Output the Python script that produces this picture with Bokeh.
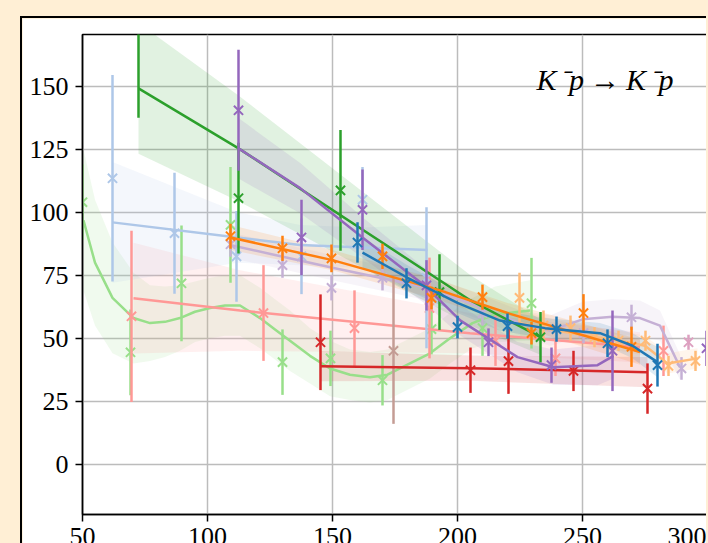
from bokeh.plotting import figure
from bokeh.models import Range1d, FixedTicker, Label
from bokeh.layouts import column
from bokeh.embed import file_html
from bokeh.resources import INLINE

x_ticks = [50, 100, 150, 200, 250, 300]
y_ticks = [0, 25, 50, 75, 100, 125, 150]
annotation = "K\u200a\u207bp\u2009\u2192\u2009K\u200a\u207bp"

# dark green
g_x = [72.4, 112.4, 153.2, 192.8, 233.2]
g_y = [176, 105.6, 108.7, 68.3, 50.4]
g_err = [38.5, 22, 24, 15, 10]
g_fit_x = [72.4, 112.4, 205.2, 233.2]
g_fit_y = [149.2, 125.4, 65, 50.4]
g_band = [26, 21, 10, 7]

# purple
pu_x = [112.4, 137.6, 162.0, 187.6, 212.4, 237.6, 262.0, 299.6]
pu_y = [140.5, 90, 101, 71, 48.4, 39.3, 45, 46]
pu_err = [24, 15, 16, 10, 5.5, 7, 16, 7]
pu_fit_x = [112.4, 137.2, 162, 187.2, 201.2, 224, 238.4, 256, 262.4]
pu_fit_y = [125.4, 109.5, 90, 70.6, 57, 42.5, 38.5, 39.3, 43]
pu_band = [12, 10, 8, 7, 6, 6, 7, 8, 9]

# blue
b_x = [160, 179.6, 200, 220, 239.6, 260, 280]
b_y = [88, 71.8, 54.4, 54.8, 53.6, 48, 39.3]
b_err = [8, 6, 4.5, 5, 5, 5.5, 8.5]
b_fit_x = [162, 180, 200, 217, 235, 257, 270, 280]
b_fit_y = [84, 74, 64, 57, 54, 52, 47, 40.5]
b_band = [6, 5, 4, 4, 4, 4, 5, 6]

# orange
o_x = [109.2, 130, 149.6, 170, 189.6, 210, 229.6, 250.4, 269.6]
o_y = [90.5, 85.7, 81.7, 82.5, 66, 66.3, 52, 60, 46.6]
o_err = [5, 5, 5.5, 5, 4.5, 5, 4.5, 7.5, 8]
o_fit_x = [109.2, 150, 193, 220, 273]
o_fit_y = [90, 81, 69, 60, 44.5]
o_band = [5, 4, 4, 4, 5]

# light blue
lb_x = [62, 86.8, 111.6, 137.6, 162, 187.6]
lb_y = [113.5, 91.7, 82.5, 82.5, 105, 74]
lb_err = [41, 24, 18, 15, 13, 28]
lb_fit_x = [62, 112, 137, 162, 188]
lb_fit_y = [96, 90, 87, 86, 85]
lb_band = [24, 10, 8, 8, 10]

# light green
lg_x = [50, 69.2, 89.6, 109.2, 130, 149.2, 170, 189.6, 210, 229.6]
lg_y = [104, 44.4, 71.8, 95, 40.5, 42, 33.3, 53.6, 54, 63.9]
lg_err = [15, 17, 23, 23, 13, 11, 10, 10, 11, 18]
lg_fit_x = [50.4, 55, 62, 70.4, 77, 83, 89, 95, 101, 107, 113, 121, 127, 133, 141,
            149, 157, 165, 172, 178, 184, 189, 197, 206, 215, 229]
lg_fit_y = [96.8, 80, 66, 58, 56, 56.5, 58, 60.5, 62, 63, 63, 58, 53.5, 49, 43,
            38, 35.5, 34.5, 35.5, 38.5, 41.5, 44, 50, 56, 59.5, 61]
lg_band = [28, 25, 22, 18, 15, 14, 13, 12, 12, 12, 12, 12, 12, 12, 11,
           11, 10, 10, 10, 10, 10, 10, 10, 10, 11, 12]

# light red
lr_x = [69.6, 122.4, 158.8, 188.8, 215.2, 239.2, 282.4]
lr_y = [58.7, 60, 54, 62, 49, 42, 45]
lr_err = [34, 19, 15, 20, 10, 7, 10]
lr_fit_x = [70.4, 113, 205, 273]
lr_fit_y = [65.9, 61, 52, 46.4]
lr_band = [22, 16, 8, 6]

# red
r_x = [145.2, 205.2, 220.4, 246.4, 276]
r_y = [48.4, 37.3, 40.9, 37, 30]
r_err = [19, 9, 13, 8, 10]
r_fit_x = [145.2, 205.2, 276]
r_fit_y = [38.9, 38.1, 36.5]
r_band = [6, 5, 6]

# light purple
lp_x = [109.2, 130, 149.6, 170, 210, 250.4, 269.6, 289.6]
lp_y = [87.3, 79, 70, 74, 60, 52, 58.3, 38]
lp_err = [5, 5, 5, 5, 5, 4, 5, 4.5]
lp_fit_x = [109, 150, 188, 210, 225, 237, 250, 262, 273, 281, 289]
lp_fit_y = [87, 78, 70, 62, 56, 53, 57.5, 58.5, 58, 55, 38.5]
lp_band = [5, 5, 5, 5, 5, 6, 7, 7, 7, 6, 5]

# light orange
lo_x = [224.8, 234.4, 245.2, 254.8, 264.4, 275.2, 284.4, 295.2]
lo_y = [66, 55, 54, 50.4, 49, 49, 39, 41]
lo_err = [10, 6, 5, 4, 4, 4, 4, 4]
lo_fit_x = [225, 240, 255, 265, 275, 284, 296]
lo_fit_y = [56, 53, 50.5, 49, 47, 40, 42]
lo_band = [5, 4, 4, 4, 4, 4, 4]

# light brown
br_x = [174.4]
br_y = [45]
br_err = [29]

# pink
pk_x = [292.4]
pk_y = [48.4]
pk_err = [3]

series = [
    ("#98df8a", lg_x, lg_y, lg_err, lg_fit_x, lg_fit_y, lg_band),
    ("#ff9896", lr_x, lr_y, lr_err, lr_fit_x, lr_fit_y, lr_band),
    ("#aec7e8", lb_x, lb_y, lb_err, lb_fit_x, lb_fit_y, lb_band),
    ("#c5b0d5", lp_x, lp_y, lp_err, lp_fit_x, lp_fit_y, lp_band),
    ("#ffbb78", lo_x, lo_y, lo_err, lo_fit_x, lo_fit_y, lo_band),
    ("#c49c94", br_x, br_y, br_err, [], [], []),
    ("#dda0c0", pk_x, pk_y, pk_err, [], [], []),
    ("#d62728", r_x, r_y, r_err, r_fit_x, r_fit_y, r_band),
    ("#2ca02c", g_x, g_y, g_err, g_fit_x, g_fit_y, g_band),
    ("#9467bd", pu_x, pu_y, pu_err, pu_fit_x, pu_fit_y, pu_band),
    ("#ff7f0e", o_x, o_y, o_err, o_fit_x, o_fit_y, o_band),
    ("#1f77b4", b_x, b_y, b_err, b_fit_x, b_fit_y, b_band),
]

p = figure(width=686, height=541, x_range=Range1d(50, 300), y_range=Range1d(-20, 170.6),
           output_backend="svg", toolbar_location=None,
           min_border_left=60, min_border_top=16, min_border_right=1, min_border_bottom=45,
           border_fill_color="white", background_fill_color="white",
           outline_line_color="black", outline_line_width=1.5)

for color, xs, ys, es, fx, fy, fb in series:
    if fx:
        p.varea(x=fx, y1=[a - b for a, b in zip(fy, fb)], y2=[a + b for a, b in zip(fy, fb)],
                fill_color=color, fill_alpha=0.14)

for color, xs, ys, es, fx, fy, fb in series:
    if fx:
        p.line(fx, fy, line_color=color, line_width=2.5)
    p.segment(xs, [a - e for a, e in zip(ys, es)], xs, [a + e for a, e in zip(ys, es)],
              line_color=color, line_width=2.5)
    p.scatter(xs, ys, marker="x", size=13, line_color=color, line_width=2)

p.xaxis.ticker = FixedTicker(ticks=x_ticks)
p.yaxis.ticker = FixedTicker(ticks=y_ticks)
p.axis.major_label_text_font = "Liberation Serif"
p.axis.major_label_text_font_size = "26px"
p.axis.major_label_text_color = "black"
p.axis.axis_line_color = "black"
p.axis.axis_line_width = 1.5
p.axis.major_tick_line_color = "black"
p.axis.major_tick_line_width = 1.5
p.axis.major_tick_out = 7
p.axis.major_tick_in = 0
p.axis.minor_tick_line_color = None
p.xaxis.major_label_standoff = 6
p.yaxis.major_label_standoff = 7
p.grid.grid_line_color = "#bcbcbc"
p.grid.grid_line_width = 1.5

p.add_layout(Label(x=286.4, y=152.8, text=annotation, text_align="right",
                   text_baseline="alphabetic", text_font="Liberation Serif",
                   text_font_style="italic", text_font_size="30px", text_color="black"))

p.margin = (16, 0, 0, 20)
p.styles = {"border-top": "2px solid black", "border-left": "2px solid black"}
layout = column(p, width=708, height=543,
                styles={"background-color": "#ffefd5", "overflow": "hidden"})

open("out.html", "w").write(file_html(layout, INLINE))
